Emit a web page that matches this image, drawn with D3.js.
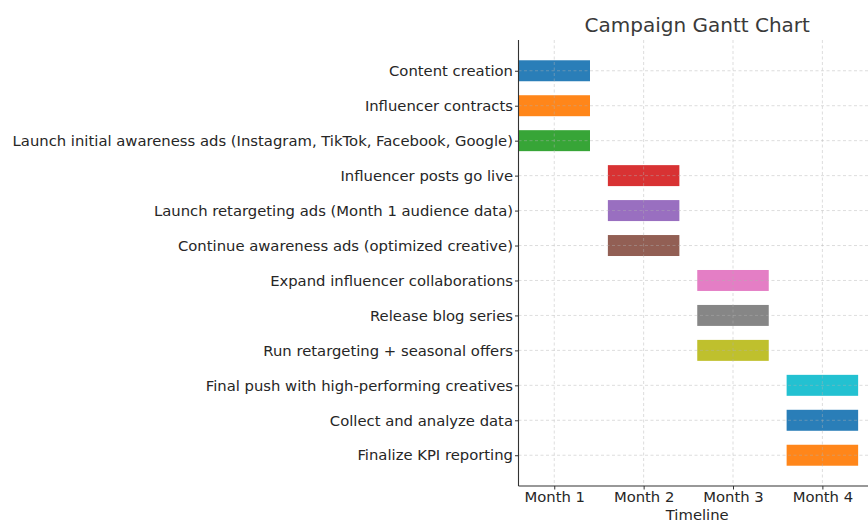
<!DOCTYPE html>
<html>
<head>
<meta charset="utf-8">
<script src="https://cdn.jsdelivr.net/npm/d3@7"></script>
<style>
  html, body { margin: 0; padding: 0; background: #fff; overflow: hidden; }
  svg { display: block; font-family: "DejaVu Sans", sans-serif; }
</style>
</head>
<body>
<svg id="chart" width="868" height="522"></svg>
<script>
// Campaign tasks, top to bottom
const tasks = [
  "Content creation",
  "Influencer contracts",
  "Launch initial awareness ads (Instagram, TikTok, Facebook, Google)",
  "Influencer posts go live",
  "Launch retargeting ads (Month 1 audience data)",
  "Continue awareness ads (optimized creative)",
  "Expand influencer collaborations",
  "Release blog series",
  "Run retargeting + seasonal offers",
  "Final push with high-performing creatives",
  "Collect and analyze data",
  "Finalize KPI reporting"
];
// Month in which each task runs (1-based)
const startMonth = [1, 1, 1, 2, 2, 2, 3, 3, 3, 4, 4, 4];
// Length of each bar, in months
const duration = [0.8, 0.8, 0.8, 0.8, 0.8, 0.8, 0.8, 0.8, 0.8, 0.8, 0.8, 0.8];
const monthTicks = [1, 2, 3, 4];
const monthLabels = ["Month 1", "Month 2", "Month 3", "Month 4"];
const barColors = ["#1f77b4", "#ff7f0e", "#2ca02c", "#d62728", "#9467bd", "#8c564b",
                   "#e377c2", "#7f7f7f", "#bcbd22", "#17becf", "#1f77b4", "#ff7f0e"];

const svg = d3.select("#chart");
const plot = { left: 518.5, right: 876, top: 40, bottom: 486 };
const labelSize = 14.8;

const x = d3.scaleLinear().domain([0.6, 4.6]).range([plot.left, plot.right]);
const y = d3.scaleLinear().domain([-0.88, tasks.length - 1 + 0.88]).range([plot.top, plot.bottom]);
const barH = y(0.3) - y(-0.3);

// Bars
svg.append("g").selectAll("rect")
  .data(tasks)
  .join("rect")
  .attr("x", (d, i) => x(startMonth[i] - duration[i] / 2))
  .attr("width", (d, i) => x(startMonth[i] + duration[i] / 2) - x(startMonth[i] - duration[i] / 2))
  .attr("y", (d, i) => y(i) - barH / 2)
  .attr("height", barH)
  .attr("fill", (d, i) => barColors[i])
  .attr("fill-opacity", 0.95);

// Dashed grid on top of bars
const grid = svg.append("g")
  .attr("stroke", "#b0b0b0")
  .attr("stroke-opacity", 0.55)
  .attr("stroke-width", 0.8)
  .attr("stroke-dasharray", "3,2.5");
grid.selectAll("line.v").data(monthTicks).join("line")
  .attr("class", "v")
  .attr("x1", d => x(d)).attr("x2", d => x(d))
  .attr("y1", plot.top).attr("y2", plot.bottom);
grid.selectAll("line.h").data(tasks).join("line")
  .attr("class", "h")
  .attr("x1", plot.left).attr("x2", plot.right)
  .attr("y1", (d, i) => y(i)).attr("y2", (d, i) => y(i));

// Axes
const xAxis = d3.axisBottom(x)
  .tickValues(monthTicks)
  .tickFormat((d, i) => monthLabels[i])
  .tickSize(3.5).tickPadding(2);
const gx = svg.append("g").attr("transform", `translate(0,${plot.bottom})`).call(xAxis);
gx.select(".domain").remove();
gx.append("line").attr("x1", plot.left).attr("x2", plot.right)
  .attr("stroke", "#333").attr("stroke-width", 1.1);

const yAxis = d3.axisLeft(y)
  .tickValues(d3.range(tasks.length))
  .tickFormat(i => tasks[i])
  .tickSize(3.5).tickPadding(2);
const gy = svg.append("g").attr("transform", `translate(${plot.left},0)`).call(yAxis);
gy.select(".domain").remove();
gy.append("line").attr("y1", plot.top).attr("y2", plot.bottom)
  .attr("stroke", "#333").attr("stroke-width", 1.1);

svg.selectAll(".tick line").attr("stroke", "#333");
svg.selectAll(".tick text")
  .attr("font-family", "DejaVu Sans")
  .attr("font-size", labelSize)
  .attr("fill", "#262626");
gx.selectAll(".tick text").attr("dy", "0.71em");

// Title and axis label
svg.append("text")
  .attr("x", (plot.left + plot.right) / 2).attr("y", 32)
  .attr("text-anchor", "middle")
  .attr("font-size", 20)
  .attr("fill", "#3a3a3a")
  .text("Campaign Gantt Chart");

svg.append("text")
  .attr("x", (plot.left + plot.right) / 2).attr("y", 519.5)
  .attr("text-anchor", "middle")
  .attr("font-size", labelSize)
  .attr("fill", "#262626")
  .text("Timeline");
</script>
</body>
</html>
